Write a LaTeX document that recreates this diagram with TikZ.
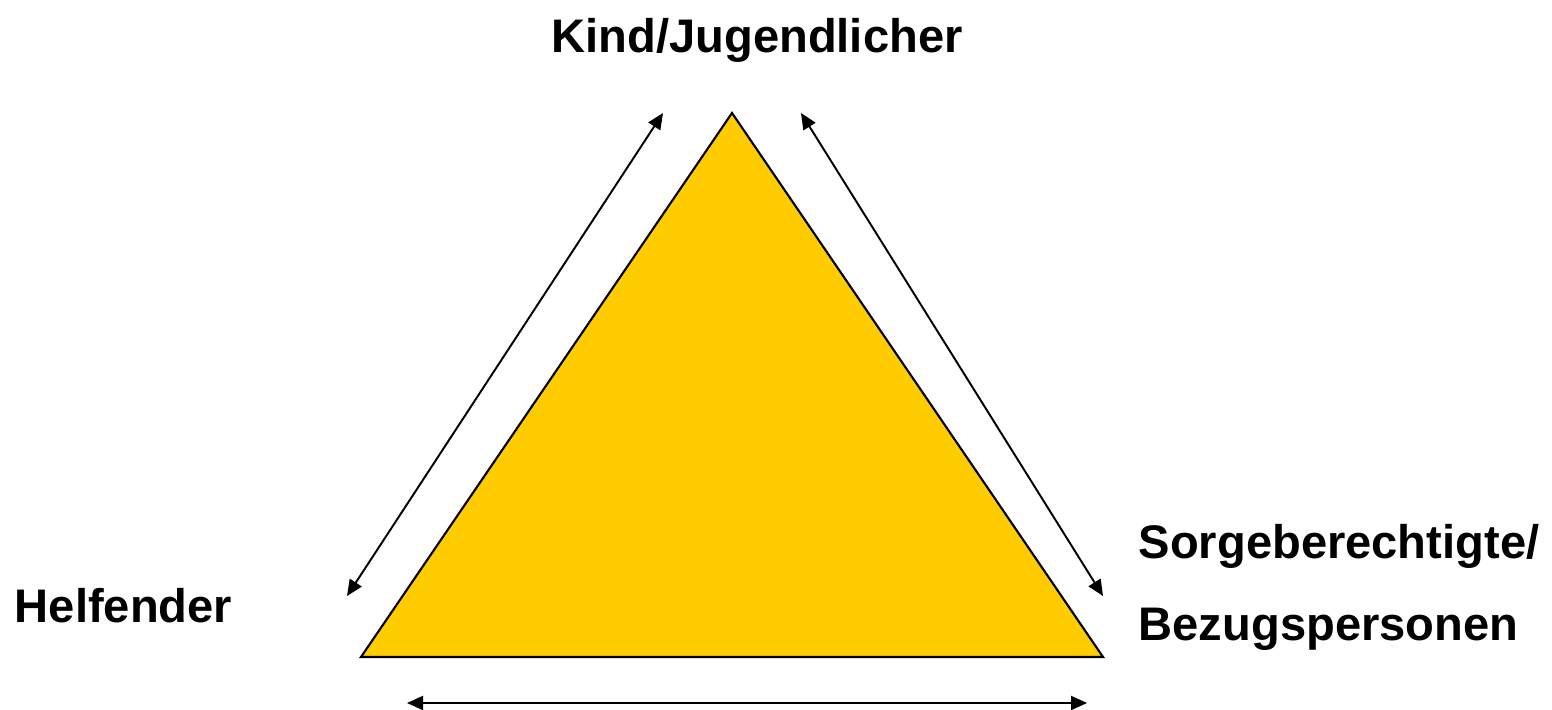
\documentclass[tikz,border=0pt]{standalone}
\usepackage{fontspec}
\setmainfont{Liberation Sans}
\usetikzlibrary{arrows.meta,positioning}
\definecolor{triyellow}{HTML}{FFCC00}

\begin{document}
\begin{tikzpicture}[x=0.01cm, y=-0.01cm,
  role/.style={font=\bfseries\fontsize{13.4}{16}\selectfont, inner sep=0pt},
  arrow/.style={{Triangle[length=1.6mm, width=1.4mm]}-{Triangle[length=1.6mm, width=1.4mm]}, line width=0.55pt}
]
\useasboundingbox (0,0) rectangle (1552,710);
% triangle corners
\coordinate (apex) at (732,113);
\coordinate (bl) at (361,657);
\coordinate (br) at (1103,657);
\draw[fill=triyellow, line width=0.6pt] (apex) -- (br) -- (bl) -- cycle;
% arrow ends
\coordinate (l1) at (663,113);
\coordinate (l2) at (347,596);
\coordinate (r1) at (801,113);
\coordinate (r2) at (1103,596);
\coordinate (b1) at (407,703);
\coordinate (b2) at (1087,703);
\draw[arrow] (l1) -- (l2);
\draw[arrow] (r1) -- (r2);
\draw[arrow] (b1) -- (b2);
% labels
\node[role, anchor=base] (kind) at (757,53) {Kind/Jugendlicher};
\node[role, anchor=base east] (helf) at (233,623) {Helfender};
\node[role, anchor=base west] (sorge) at (1138,559) {Sorgeberechtigte/};
\node[role, anchor=base west] (bezug) at (1138,640) {Bezugspersonen};
\end{tikzpicture}
\end{document}
